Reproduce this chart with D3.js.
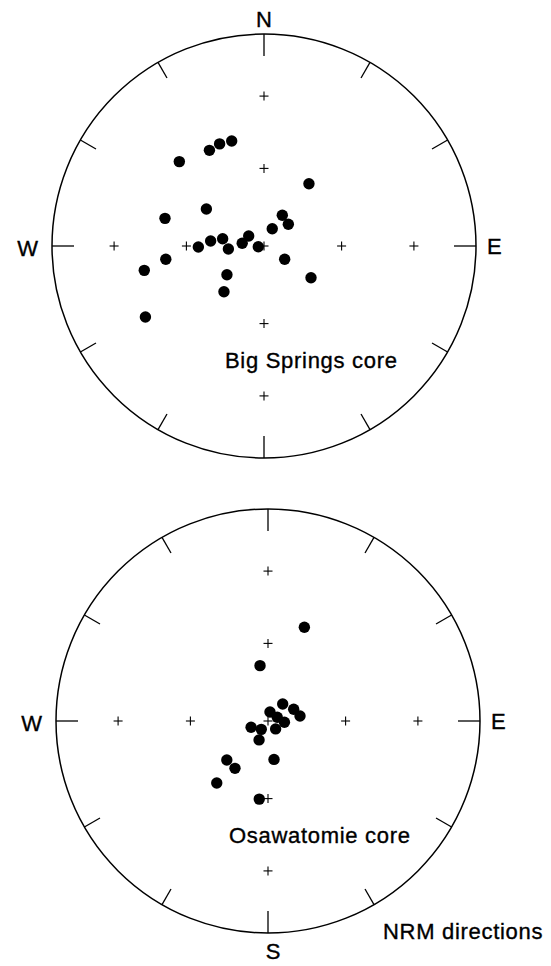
<!DOCTYPE html>
<html>
<head>
<meta charset="utf-8">
<script src="https://cdn.jsdelivr.net/npm/d3@7"></script>
<style>
  body { margin: 0; background: #fff; }
  text { font-family: "Liberation Sans", Arial, sans-serif; fill: #000; stroke: #000; stroke-width: 0.35px; }
</style>
</head>
<body>
<script>
var width = 551,
    height = 966,
    R = 212;

// NRM directions, declination / inclination in degrees (lower hemisphere)
var bigSpringsDec = [314.9, 330.3, 336.5, 342.9, 35.8, 302.7, 285.6, 30.8, 48.2, 25.6, 303.2, 277.1,
                     280.0, 275.4, 265.2, 269.1, 263.0, 262.3, 258.5, 122.7, 124.0, 232.2, 221.2, 239.1];
var bigSpringsInc = [43.0, 46.9, 46.4, 47.0, 60.3, 63.6, 49.9, 76.3, 77.5, 82.7, 83.0, 81.6,
                     73.9, 69.4, 76.3, 64.7, 87.8, 51.4, 41.9, 80.6, 68.2, 72.0, 66.6, 35.1];

var osawatomieDec = [21.2, 351.8, 40.8, 12.5, 65.5, 81.1, 68.3, 94.6, 249.7, 218.9, 136.1, 205.3,
                     171.1, 226.6, 214.9, 219.6, 186.4];
var osawatomieInc = [50.8, 68.5, 81.4, 86.5, 79.2, 77.6, 86.2, 83.7, 83.1, 85.9, 85.8, 82.0,
                     75.1, 68.2, 67.8, 58.9, 59.6];

// grid crosses: inclination 60 and 30 along the N, E, S, W lines, plus the centre
var gridInc = [60, 30];
var gridAz = [0, 90, 180, 270];
var tickAz = d3.range(0, 360, 30);

var svg = d3.select('body').append('svg')
    .attr('width', width)
    .attr('height', height);

// equal-area projection: r = R * sqrt(1 - sin(inc))
var rScale = d3.scaleRadial().domain([0, 1]).range([0, R]);

function rad(d) { return d * Math.PI / 180; }

function proj(dec, inc) {
  var r = rScale(1 - Math.sin(rad(inc)));
  return [r * Math.sin(rad(dec)), -r * Math.cos(rad(dec))];
}

function drawNet(cx, cy, dec, inc, labels, caption) {
  var g = svg.append('g').attr('transform', 'translate(' + cx + ',' + cy + ')');

  g.append('circle')
      .attr('r', R)
      .attr('fill', 'none')
      .attr('stroke', '#000')
      .attr('stroke-width', 1.5);

  // ticks every 30 degrees, longer at the cardinal points
  g.selectAll('.tick')
      .data(tickAz)
      .enter().append('line')
      .attr('class', 'tick')
      .attr('x1', function(a) { return R * Math.sin(rad(a)); })
      .attr('y1', function(a) { return -R * Math.cos(rad(a)); })
      .attr('x2', function(a) { var l = a % 90 == 0 ? 22 : 18; return (R - l) * Math.sin(rad(a)); })
      .attr('y2', function(a) { var l = a % 90 == 0 ? 22 : 18; return -(R - l) * Math.cos(rad(a)); })
      .attr('stroke', '#000')
      .attr('stroke-width', 1.3);

  var crosses = [[0, 90]];
  gridAz.forEach(function(a) {
    gridInc.forEach(function(i) { crosses.push([a, i]); });
  });

  var cr = g.selectAll('.cross')
      .data(crosses)
      .enter().append('g')
      .attr('class', 'cross')
      .attr('transform', function(d) { var p = proj(d[0], d[1]); return 'translate(' + p[0] + ',' + p[1] + ')'; });
  cr.append('line').attr('x1', -4.5).attr('x2', 4.5).attr('stroke', '#000').attr('stroke-width', 1.1);
  cr.append('line').attr('y1', -4.5).attr('y2', 4.5).attr('stroke', '#000').attr('stroke-width', 1.1);

  g.selectAll('.dot')
      .data(d3.range(dec.length))
      .enter().append('circle')
      .attr('class', 'dot')
      .attr('cx', function(i) { return proj(dec[i], inc[i])[0]; })
      .attr('cy', function(i) { return proj(dec[i], inc[i])[1]; })
      .attr('r', 5.7)
      .attr('fill', '#000');

  // N, E, S, W
  var pos = [
    {x: 0, y: -R - 7, anchor: 'middle'},
    {x: R + 11, y: 8, anchor: 'start'},
    {x: 5, y: R + 26, anchor: 'middle'},
    {x: -R - 14, y: 10, anchor: 'end'}
  ];
  labels.forEach(function(t, k) {
    if (!t) return;
    g.append('text')
        .attr('x', pos[k].x)
        .attr('y', pos[k].y)
        .attr('text-anchor', pos[k].anchor)
        .style('font-size', '22px')
        .text(t);
  });

  g.append('text')
      .attr('x', -39)
      .attr('y', 122)
      .style('font-size', '22px')
      .style('letter-spacing', '0.7px')
      .text(caption);
}

drawNet(264, 246, bigSpringsDec, bigSpringsInc, ['N', 'E', '', 'W'], 'Big Springs core');
drawNet(268, 721, osawatomieDec, osawatomieInc, ['', 'E', 'S', 'W'], 'Osawatomie core');

svg.append('text')
    .attr('x', 383)
    .attr('y', 939)
    .style('font-size', '22px')
    .style('letter-spacing', '0.7px')
    .text('NRM directions');
</script>
</body>
</html>
